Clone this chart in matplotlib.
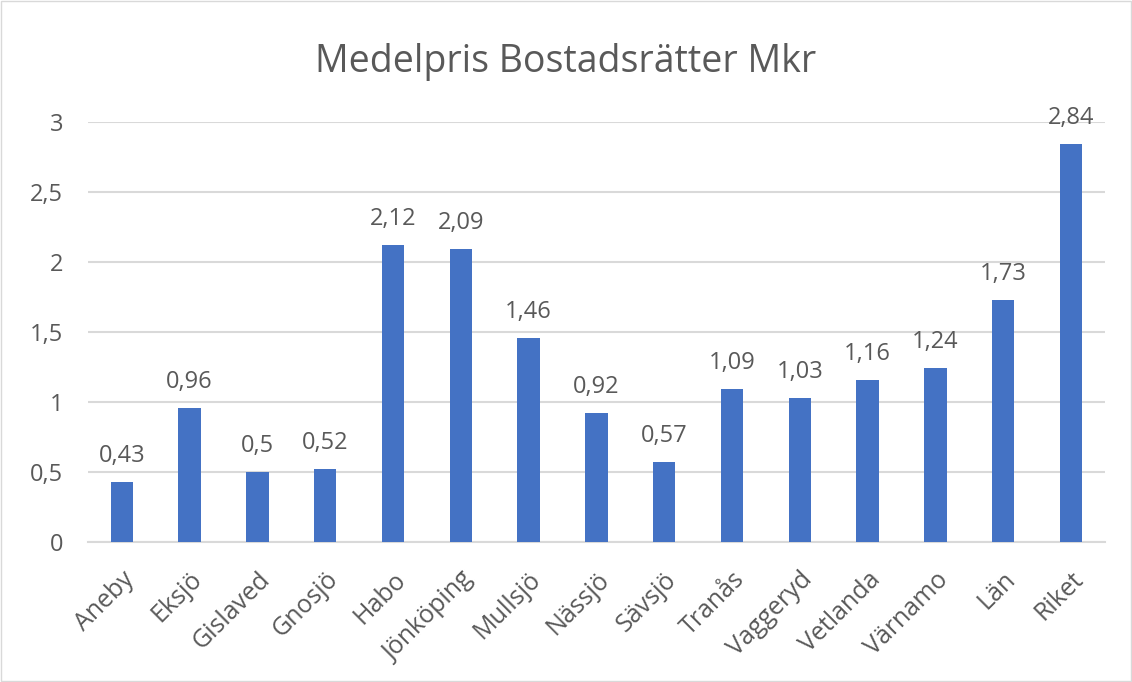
import matplotlib.pyplot as plt
import numpy as np

# Data
kommuner = ['Aneby', 'Eksjö', 'Gislaved', 'Gnosjö', 'Habo', 'Jönköping', 'Mullsjö',
            'Nässjö', 'Sävsjö', 'Tranås', 'Vaggeryd', 'Vetlanda', 'Värnamo', 'Län', 'Riket']
medelpris = [0.43, 0.96, 0.5, 0.52, 2.12, 2.09, 1.46, 0.92, 0.57, 1.09, 1.03, 1.16, 1.24, 1.73, 2.84]
y_ticks = [0, 0.5, 1, 1.5, 2, 2.5, 3]

BAR_COLOR = '#4472C4'
TEXT_COLOR = '#595959'
GRID_COLOR = '#D9D9D9'

plt.rcParams['font.family'] = ['Open Sans', 'DejaVu Sans']


def fmt(v):
    """Swedish decimal comma, no trailing zeros"""
    return f"{v:g}".replace('.', ',')


fig = plt.figure(figsize=(11.32, 6.82), dpi=100)
ax = fig.add_axes([0.0777, 0.2053, 0.8983, 0.6158])

x = np.arange(len(kommuner))
ax.bar(x, medelpris, width=0.33, color=BAR_COLOR, zorder=3)

for xi, v in zip(x, medelpris):
    ax.text(xi, v + 0.1, fmt(v), ha='center', va='bottom', fontsize=17,
            color=TEXT_COLOR, clip_on=False, zorder=4)

ax.set_xlim(-0.5, len(kommuner) - 0.5)
ax.set_ylim(0, 3)
ax.set_yticks(y_ticks)
ax.set_yticklabels([fmt(t) for t in y_ticks], fontsize=17, color=TEXT_COLOR)
ax.set_xticks(x)
ax.set_xticklabels(kommuner, rotation=45, ha='right', rotation_mode='anchor',
                   fontsize=18, color=TEXT_COLOR)
ax.tick_params(axis='both', length=0)
ax.tick_params(axis='y', pad=18)
ax.tick_params(axis='x', pad=18)

ax.yaxis.grid(True, color=GRID_COLOR, linewidth=1.5, zorder=0)
ax.set_axisbelow(True)
for side in ['top', 'right', 'left']:
    ax.spines[side].set_visible(False)
ax.spines['bottom'].set_color(GRID_COLOR)
ax.spines['bottom'].set_linewidth(1.5)

fig.text(0.5, 0.909, 'Medelpris Bostadsrätter Mkr', ha='center', va='center',
         fontsize=27, color=TEXT_COLOR)

# chart border
fig.patches.append(plt.Rectangle((0.001, 0.001), 0.998, 0.997, transform=fig.transFigure,
                                 fill=False, edgecolor='#D9D9D9', linewidth=1))

plt.savefig('out.png', dpi=100)
